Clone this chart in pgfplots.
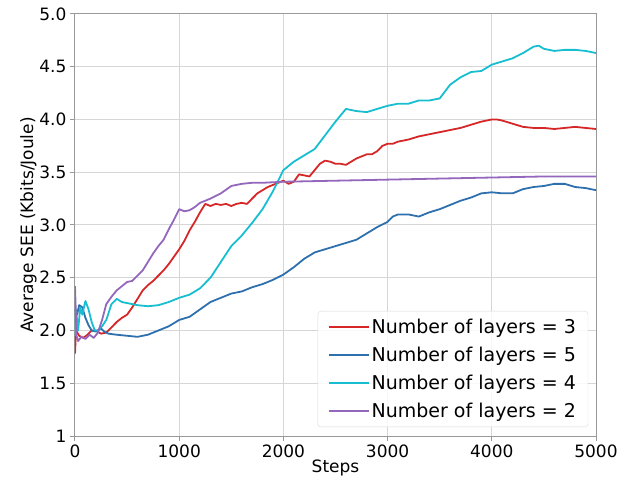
\documentclass[border=0pt]{standalone}
\usepackage{pgfplots}
\pgfplotsset{compat=1.18}
\usepackage{fontspec}
\setmainfont{DejaVu Sans}
\definecolor{tred}{HTML}{D62728}
\definecolor{tblue}{HTML}{2E6FAE}
\definecolor{tcyan}{HTML}{17BECF}
\definecolor{tpurple}{HTML}{9467BD}
\definecolor{gridc}{HTML}{D6D6D6}
\begin{document}
\begin{tikzpicture}
\useasboundingbox (-75pt,-48pt) rectangle (569pt,436pt);
\begin{axis}[
  scale only axis, width=521pt, height=422pt,
  xmin=0, xmax=5000, ymin=1, ymax=5,
  xtick={0,1000,2000,3000,4000,5000},
  ytick={1,1.5,2,2.5,3,3.5,4,4.5,5},
  yticklabels={1,1.5,2.0,2.5,3.0,3.5,4.0,4.5,5.0},
  scaled x ticks=false,
  /pgf/number format/assume math mode=true,
  xticklabel style={/pgf/number format/1000 sep={}},
  ticklabel style={font=\fontsize{17}{19}\selectfont},
  label style={font=\fontsize{17}{19}\selectfont},
  xlabel={Steps}, ylabel={Average SEE (Kbits/Joule)},
  xlabel style={yshift=4pt},
  ylabel style={yshift=-4pt},
  grid=major, grid style={gridc, line width=1pt},
  axis line style={gray!80, line width=1pt},
  tick style={gray!80, line width=1pt},
  tick align=outside, major tick length=5pt,
  xtick pos=bottom, ytick pos=left,
  legend style={at={(rel axis cs:0.985,0.021)}, anchor=south east,
    font=\fontsize{19}{22}\selectfont, draw=gray!30, rounded corners=3pt,
    fill=white, fill opacity=0.85, text opacity=1,
    row sep=8pt, inner xsep=10pt, inner ysep=6pt},
  legend cell align=left,
  legend image code/.code={\draw[#1] (0pt,0pt) -- (40pt,0pt);},
  every axis plot/.append style={line width=1.8pt, line join=round},
]
\addplot[tred] coordinates {(0,1.78)(10,2.0)(40,1.95)(80,1.93)(120,1.96)(160,2.0)(200,2.0)(250,1.97)(300,1.98)(350,2.03)(400,2.08)(450,2.12)(500,2.15)(550,2.22)(600,2.3)(650,2.38)(700,2.43)(750,2.47)(800,2.52)(850,2.57)(900,2.63)(950,2.7)(1000,2.77)(1050,2.85)(1100,2.95)(1150,3.03)(1200,3.12)(1250,3.2)(1300,3.18)(1350,3.2)(1400,3.19)(1450,3.2)(1500,3.18)(1550,3.2)(1600,3.21)(1650,3.2)(1700,3.25)(1750,3.3)(1800,3.33)(1850,3.36)(1900,3.38)(1950,3.4)(2000,3.42)(2050,3.39)(2100,3.41)(2150,3.48)(2200,3.47)(2250,3.46)(2300,3.52)(2350,3.58)(2400,3.61)(2450,3.6)(2500,3.58)(2550,3.58)(2600,3.57)(2650,3.6)(2700,3.63)(2750,3.65)(2800,3.67)(2850,3.67)(2900,3.7)(2950,3.75)(3000,3.77)(3050,3.77)(3100,3.79)(3200,3.81)(3300,3.84)(3400,3.86)(3500,3.88)(3600,3.9)(3700,3.92)(3800,3.95)(3900,3.98)(4000,4.0)(4050,4.0)(4100,3.99)(4200,3.96)(4300,3.93)(4400,3.92)(4500,3.92)(4600,3.91)(4700,3.92)(4800,3.93)(4900,3.92)(5000,3.91)};
\addlegendentry{Number of layers = 3}
\addplot[tblue] coordinates {(0,2.2)(20,2.15)(40,2.24)(70,2.22)(100,2.12)(130,2.05)(160,2.0)(200,1.99)(250,2.02)(280,1.99)(320,1.97)(400,1.96)(500,1.95)(600,1.94)(700,1.96)(800,2.0)(900,2.04)(1000,2.1)(1100,2.13)(1200,2.2)(1300,2.27)(1400,2.31)(1500,2.35)(1600,2.37)(1700,2.41)(1800,2.44)(1900,2.48)(2000,2.53)(2100,2.6)(2200,2.68)(2300,2.74)(2400,2.77)(2500,2.8)(2600,2.83)(2700,2.86)(2800,2.92)(2900,2.98)(3000,3.03)(3050,3.08)(3100,3.1)(3200,3.1)(3300,3.08)(3400,3.12)(3500,3.15)(3600,3.19)(3700,3.23)(3800,3.26)(3900,3.3)(4000,3.31)(4100,3.3)(4200,3.3)(4300,3.34)(4400,3.36)(4500,3.37)(4600,3.39)(4700,3.39)(4800,3.36)(4900,3.35)(5000,3.33)};
\addlegendentry{Number of layers = 5}
\addplot[tcyan] coordinates {(0,1.95)(10,2.2)(30,2.0)(50,2.22)(70,2.15)(100,2.28)(130,2.2)(160,2.08)(190,2.0)(220,2.0)(260,2.04)(300,2.1)(350,2.25)(400,2.3)(450,2.27)(500,2.26)(600,2.24)(700,2.23)(800,2.24)(900,2.27)(1000,2.31)(1100,2.34)(1200,2.4)(1300,2.5)(1400,2.65)(1500,2.8)(1600,2.9)(1700,3.02)(1800,3.15)(1900,3.32)(2000,3.52)(2100,3.6)(2200,3.66)(2300,3.72)(2400,3.85)(2500,3.98)(2600,4.1)(2700,4.08)(2800,4.07)(2900,4.1)(3000,4.13)(3100,4.15)(3200,4.15)(3300,4.18)(3400,4.18)(3500,4.2)(3600,4.33)(3700,4.4)(3800,4.45)(3900,4.46)(4000,4.52)(4100,4.55)(4200,4.58)(4300,4.63)(4400,4.69)(4450,4.7)(4500,4.67)(4600,4.65)(4700,4.66)(4800,4.66)(4900,4.65)(5000,4.63)};
\addlegendentry{Number of layers = 4}
\addplot[tpurple] coordinates {(0,2.42)(15,1.95)(30,1.9)(60,1.94)(100,1.92)(140,1.96)(180,1.93)(220,1.98)(260,2.1)(300,2.25)(350,2.32)(400,2.38)(450,2.42)(500,2.46)(550,2.47)(600,2.52)(650,2.57)(700,2.65)(750,2.73)(800,2.8)(850,2.86)(900,2.96)(950,3.05)(1000,3.15)(1050,3.13)(1100,3.14)(1150,3.17)(1200,3.21)(1300,3.25)(1400,3.3)(1500,3.37)(1600,3.39)(1700,3.4)(1800,3.4)(2000,3.41)(2500,3.42)(3000,3.43)(3500,3.44)(4000,3.45)(4500,3.46)(5000,3.46)};
\addlegendentry{Number of layers = 2}
\end{axis}
\end{tikzpicture}
\end{document}
